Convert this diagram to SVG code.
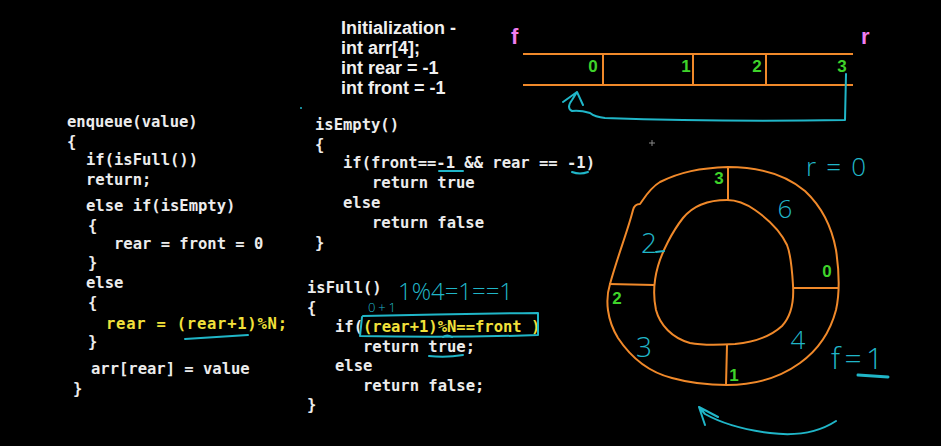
<svg xmlns="http://www.w3.org/2000/svg" width="941" height="446" viewBox="0 0 941 446">
  <style>
    .code { font-family: "DejaVu Sans Mono", "Liberation Mono", monospace; font-size: 15.5px; font-weight: bold; fill: #ececec; }
    .hl { fill: #f2e13a; }
    .init { font-family: "Liberation Sans", Arial, sans-serif; font-size: 18px; font-weight: bold; fill: #f0f0f0; }
    .idx { font-family: "Liberation Sans", Arial, sans-serif; font-size: 17px; font-weight: bold; fill: #3fd32a; text-anchor: middle; }
    .ptr { font-family: "Liberation Sans", Arial, sans-serif; font-size: 22px; font-weight: bold; fill: #f07ef0; }
    .ink { fill: none; stroke: #20b6c8; stroke-width: 2; stroke-linecap: round; stroke-linejoin: round; }
    .hand { font-family: "Open Sans", "DejaVu Sans", sans-serif; font-weight: 300; fill: #20b6c8; }
    .wall { fill: none; stroke: #f0892a; stroke-width: 2; stroke-linejoin: round; }
  </style>

  <rect width="941" height="446" fill="#000"/>

  <!-- enqueue -->
  <g id="enqueue">
    <text class="code" x="67" y="127">enqueue(value)</text>
    <text class="code" x="67" y="147">{</text>
    <text class="code" x="86" y="165">if(isFull())</text>
    <text class="code" x="86" y="185">return;</text>
    <text class="code" x="86" y="211">else if(isEmpty)</text>
    <text class="code" x="88" y="231">{</text>
    <text class="code" x="114" y="249">rear = front = 0</text>
    <text class="code" x="88" y="268">}</text>
    <text class="code" x="86" y="288">else</text>
    <text class="code" x="88" y="308">{</text>
    <text class="code hl" x="106" y="329" textLength="181">rear = (rear+1)%N;</text>
    <text class="code" x="88" y="347">}</text>
    <text class="code" x="91" y="374">arr[rear] = value</text>
    <text class="code" x="73" y="394">}</text>
    <path class="ink" d="M185 339 Q215 337 248 335"/>
  </g>

  <!-- isEmpty -->
  <g id="isEmpty">
    <text class="code" x="315" y="130">isEmpty()</text>
    <text class="code" x="315" y="150">{</text>
    <text class="code" x="343" y="168">if(front==-1 &amp;&amp; rear == -1)</text>
    <text class="code" x="372" y="188">return true</text>
    <text class="code" x="343" y="208">else</text>
    <text class="code" x="372" y="228">return false</text>
    <text class="code" x="315" y="248">}</text>
    <path class="ink" d="M439 171 L463 171"/>
    <path class="ink" d="M572 172 Q580 175 588 172"/>
    <circle cx="301" cy="108" r="1" fill="#20b6c8"/>
  </g>

  <!-- isFull -->
  <g id="isFull">
    <text class="code" x="307" y="293">isFull()</text>
    <text class="code" x="307" y="313">{</text>
    <text class="code" x="335" y="332">if(<tspan class="hl">(rear+1)%N==front )</tspan></text>
    <text class="code" x="363" y="352">return true;</text>
    <text class="code" x="335" y="371">else</text>
    <text class="code" x="363" y="391">return false;</text>
    <text class="code" x="307" y="410">}</text>
    <path class="ink" d="M362 317 L360 336 Q450 338 538 335 L538 313 Q450 314 363 316"/>
    <path class="ink" d="M443 337 Q447 334 452 337"/>
    <path class="ink" d="M429 356 Q446 358 463 355"/>
    <text class="hand" x="398" y="300" font-size="24" textLength="115">1%4=1==1</text>
    <text class="hand" x="368" y="312" font-size="13" textLength="28">0+1</text>
  </g>

  <!-- initialization -->
  <g id="init">
    <text class="init" x="341" y="34">Initialization -</text>
    <text class="init" x="341" y="54">int arr[4];</text>
    <text class="init" x="341" y="74">int rear = -1</text>
    <text class="init" x="341" y="94">int front = -1</text>
  </g>

  <!-- linear array -->
  <g id="array">
    <text class="ptr" x="511" y="44">f</text>
    <text class="ptr" x="861" y="44">r</text>
    <path class="wall" d="M523 54 L853 54 M523 85 L853 85 M603 54 L603 85 M693 54 L693 85 M766 54 L766 85"/>
    <text class="idx" x="593" y="72">0</text>
    <text class="idx" x="686" y="72">1</text>
    <text class="idx" x="757" y="72">2</text>
    <text class="idx" x="842" y="72">3</text>
    <path class="ink" d="M846 74 L845 120 Q720 122 605 118 Q595 117 590 113 Q580 110 572 111 Q566 108 572 100 L577 92 M563 102 L577 92 L583 105"/>
  </g>

  <!-- circular buffer -->
  <g id="ring">
    <path class="wall" d="M728 167 C700 168 680 172 660 182 C650 188 645 197 640 204 C636 204 634 206 633 210 C628 230 618 255 610 284 C605 300 607 320 618 338 C630 356 648 372 672 378 C690 383 710 385 727 385 C750 385 775 381 800 363 C818 350 830 333 836 310 C840 292 839 270 836 250 C832 228 822 207 805 191 C785 174 760 167 728 167 Z"/>
    <path class="wall" d="M727 200 C705 200 692 207 683 218 C672 232 662 252 658 266 C654 280 653 296 656 310 C660 325 672 338 690 343 C705 346 720 345 735 344 C755 342 770 337 782 326 C792 315 794 300 793 285 C792 268 791 255 787 245 C780 230 768 219 755 210 C745 203 737 200 727 200 Z"/>
    <path class="wall" d="M728 167 L728 200 M793 288 L838 288 M727 345 L726 385 M609 284 L654 285"/>
    <text class="idx" x="719" y="184">3</text>
    <text class="idx" x="827" y="277">0</text>
    <text class="idx" x="617" y="304">2</text>
    <text class="idx" x="734" y="381">1</text>
    <text class="hand" x="785" y="218" font-size="26" text-anchor="middle">6</text>
    <text class="hand" x="649" y="253" font-size="28" text-anchor="middle">2</text>
    <path class="ink" d="M656 252 L664 251"/>
    <text class="hand" x="644" y="357" font-size="28" text-anchor="middle">3</text>
    <text class="hand" x="798" y="349" font-size="26" text-anchor="middle">4</text>
    <text class="hand" x="806" y="176" font-size="26" textLength="60">r=0</text>
    <text class="hand" x="831" y="369" font-size="30" textLength="52">f=1</text>
    <path d="M858 375 L888 377" fill="none" stroke="#20b6c8" stroke-width="3" stroke-linecap="round"/>
    <path class="ink" d="M836 421 Q810 438 770 433 Q730 428 705 414 L699 407 M705 425 L699 407 L718 417"/>
  </g>

  <!-- cursor mark -->
  <path d="M649 143 L655 143 M652 140 L652 146" stroke="#888" stroke-width="1"/>
</svg>
